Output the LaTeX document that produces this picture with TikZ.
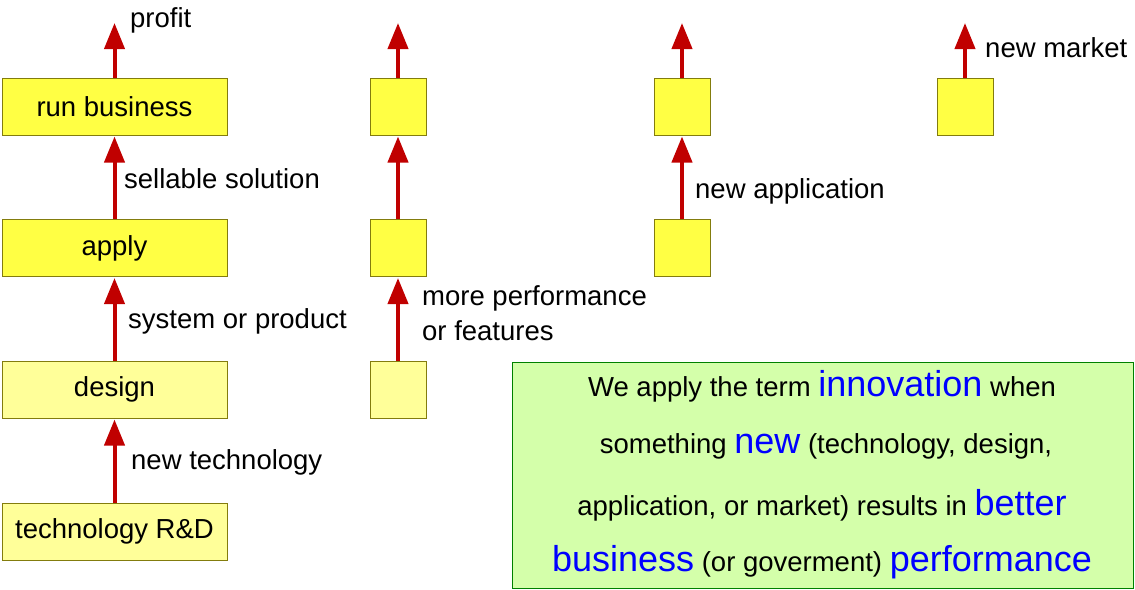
\documentclass[tikz,border=0pt]{standalone}
\usepackage{fontspec}
\setmainfont{Liberation Sans}
\usetikzlibrary{arrows.meta}
\definecolor{yb}{HTML}{FFFF44}
\definecolor{yl}{HTML}{FFFF99}
\definecolor{gb}{HTML}{D4FFAA}
\definecolor{ar}{HTML}{C00000}
\begin{document}
\begin{tikzpicture}[x=1pt,y=-1pt,
 box/.style={draw=olive!90!black,line width=1pt,inner sep=0pt,minimum height=57pt,font=\fontsize{27.5}{32}\selectfont},
 wide/.style={box,minimum width=225pt},
 sq/.style={box,minimum width=56pt},
 arr/.style={ar,line width=4pt,-{Triangle[width=20pt,length=26pt]},shorten >=1pt},
 lab/.style={anchor=west,font=\fontsize{27.5}{32}\selectfont,inner sep=0pt}]
\useasboundingbox (0,0) rectangle (1135,589);
\node[wide,fill=yb] (rb) at (114.5,106.5) {run business};
\node[wide,fill=yb] (ap) at (114.5,248) {apply};
\node[wide,fill=yl] (de) at (114.5,389.5) {design};
\node[wide,fill=yl] (rd) at (114.5,531.5) {technology R\&D};
\node[sq,fill=yb] (b1) at (398,106.5) {};
\node[sq,fill=yb] (b2) at (398,248) {};
\node[sq,fill=yl] (b3) at (398,389.5) {};
\node[sq,fill=yb] (c1) at (682,106.5) {};
\node[sq,fill=yb] (c2) at (682,248) {};
\node[sq,fill=yb] (d1) at (965,106.5) {};
\coordinate (t1) at (114.5,22);
\coordinate (t2) at (398,22);
\coordinate (t3) at (682,22);
\coordinate (t4) at (965,22);
\draw[arr] (rb.north) -- (t1);
\draw[arr] (b1.north) -- (t2);
\draw[arr] (c1.north) -- (t3);
\draw[arr] (d1.north) -- (t4);
\draw[arr] (ap.north) -- (rb.south);
\draw[arr] (de.north) -- (ap.south);
\draw[arr] (rd.north) -- (de.south);
\draw[arr] (b2.north) -- (b1.south);
\draw[arr] (b3.north) -- (b2.south);
\draw[arr] (c2.north) -- (c1.south);
\node[lab] (l1) at (130,20) {profit};
\node[lab] (l2) at (124,179) {sellable solution};
\node[lab] (l3) at (128,321) {system or product};
\node[lab] (l4) at (131,462) {new technology};
\node[lab] (l5) at (422,298) {more performance};
\node[lab] (l6) at (422,331) {or features};
\node[lab] (l7) at (695,191) {new application};
\node[lab] (l8) at (985,48) {new market};
\node[draw=green!50!black,fill=gb,line width=1pt,minimum width=621pt,minimum height=226pt,inner sep=0pt] (g) at (822.5,475) {};
\begin{scope}[every node/.style={font=\fontsize{27.5}{32}\selectfont,inner sep=0pt}]
\def\B#1{{\fontsize{36}{40}\selectfont\color{blue}#1}}
\node (g1) at (822,386) {We apply the term \B{innovation} when};
\node (g2) at (826,446) {something \B{new} (technology, design,};
\node (g3) at (822,505) {application, or market) results in \B{better}};
\node (g4) at (822,562) {\B{business} (or goverment) \B{performance}};
\end{scope}
\end{tikzpicture}
\end{document}
